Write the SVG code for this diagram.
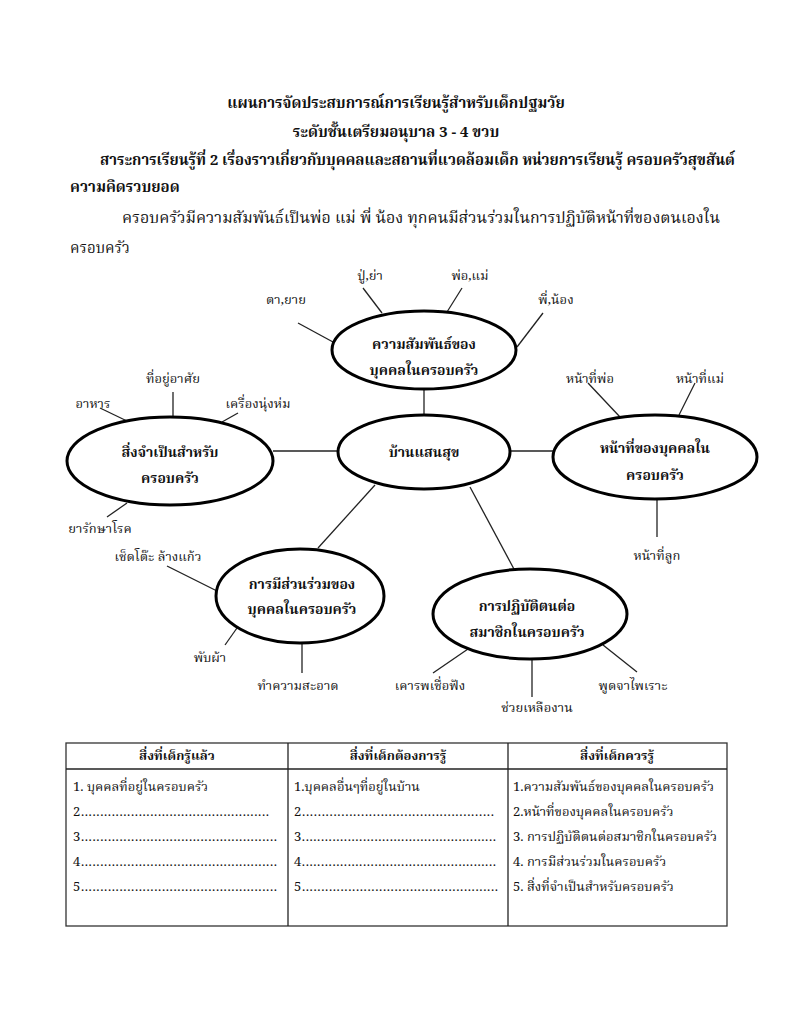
<svg xmlns="http://www.w3.org/2000/svg" width="792" height="1024" viewBox="0 0 792 1024">
<style>
text{font-family:"Noto Serif Thai","Noto Sans Thai","Loma","Garuda","Tlwg Typo","DejaVu Sans","Liberation Serif",serif;fill:#111;}
.h{font-size:15px;font-weight:bold;}
.p{font-size:15px;}
.n{font-size:14px;font-weight:bold;text-anchor:middle;}
.l{font-size:13px;text-anchor:middle;}
.t{font-size:13px;}
.th{font-size:13px;font-weight:bold;text-anchor:middle;}
ellipse{fill:#fff;stroke:#000;stroke-width:3;}
line{stroke:#222;stroke-width:1.3;}
.tb{fill:none;stroke:#333;stroke-width:1.3;}
</style>
<rect width="792" height="1024" fill="#fff"/>
<g id="header">
<text class="h" x="396" y="108" text-anchor="middle">แผนการจัดประสบการณ์การเรียนรู้สำหรับเด็กปฐมวัย</text>
<text class="h" x="396" y="137" text-anchor="middle">ระดับชั้นเตรียมอนุบาล 3 - 4 ขวบ</text>
<text class="h" x="100" y="165" textLength="635" lengthAdjust="spacingAndGlyphs">สาระการเรียนรู้ที่ 2  เรื่องราวเกี่ยวกับบุคคลและสถานที่แวดล้อมเด็ก  หน่วยการเรียนรู้  ครอบครัวสุขสันต์</text>
<text class="h" x="70" y="192">ความคิดรวบยอด</text>
<text class="p" x="122" y="223" textLength="598" lengthAdjust="spacingAndGlyphs">ครอบครัวมีความสัมพันธ์เป็นพ่อ แม่ พี่ น้อง ทุกคนมีส่วนร่วมในการปฏิบัติหน้าที่ของตนเองใน</text>
<text class="p" x="70" y="253">ครอบครัว</text>
</g>
<g id="connectors">
<line x1="424" y1="389" x2="424" y2="415"/>
<line x1="273" y1="451" x2="338" y2="451"/>
<line x1="510" y1="451" x2="553" y2="451"/>
<line x1="375" y1="485" x2="318" y2="548"/>
<line x1="470" y1="487" x2="515" y2="571"/>
<line x1="298" y1="323" x2="333" y2="342"/>
<line x1="363" y1="288" x2="382" y2="313"/>
<line x1="462" y1="288" x2="447" y2="312"/>
<line x1="543" y1="313" x2="517" y2="347"/>
<line x1="100" y1="408" x2="127" y2="421"/>
<line x1="173" y1="392" x2="173" y2="417"/>
<line x1="238" y1="413" x2="222" y2="422"/>
<line x1="107" y1="517" x2="127" y2="503"/>
<line x1="588" y1="383" x2="620" y2="417"/>
<line x1="695" y1="383" x2="679" y2="415"/>
<line x1="657" y1="500" x2="657" y2="537"/>
<line x1="167" y1="566" x2="217" y2="591"/>
<line x1="237" y1="628" x2="225" y2="645"/>
<line x1="302" y1="643" x2="302" y2="673"/>
<line x1="468" y1="649" x2="433" y2="673"/>
<line x1="532" y1="659" x2="532" y2="697"/>
<line x1="603" y1="645" x2="637" y2="672"/>
</g>
<g id="node-relation">
<ellipse cx="424" cy="350" rx="92" ry="39"/>
<text class="n" x="424" y="349">ความสัมพันธ์ของ</text>
<text class="n" x="424" y="375">บุคคลในครอบครัว</text>
</g>
<g id="node-center">
<ellipse cx="424" cy="452" rx="86" ry="37"/>
<text class="n" x="424" y="457">บ้านแสนสุข</text>
</g>
<g id="node-needs">
<ellipse cx="170" cy="461" rx="103" ry="44"/>
<text class="n" x="170" y="457">สิ่งจำเป็นสำหรับ</text>
<text class="n" x="170" y="483">ครอบครัว</text>
</g>
<g id="node-duties">
<ellipse cx="655" cy="457" rx="102" ry="42"/>
<text class="n" x="655" y="453">หน้าที่ของบุคคลใน</text>
<text class="n" x="655" y="480">ครอบครัว</text>
</g>
<g id="node-participation">
<ellipse cx="300" cy="596" rx="84" ry="47"/>
<text class="n" x="302" y="589">การมีส่วนร่วมของ</text>
<text class="n" x="302" y="614">บุคคลในครอบครัว</text>
</g>
<g id="node-conduct">
<ellipse cx="530" cy="614" rx="97" ry="45"/>
<text class="n" x="527" y="611">การปฏิบัติตนต่อ</text>
<text class="n" x="527" y="637">สมาชิกในครอบครัว</text>
</g>
<g id="labels">
<text class="l" x="286" y="304">ตา,ยาย</text>
<text class="l" x="370" y="280">ปู่,ย่า</text>
<text class="l" x="470" y="280">พ่อ,แม่</text>
<text class="l" x="556" y="304">พี่,น้อง</text>
<text class="l" x="93" y="408">อาหาร</text>
<text class="l" x="173" y="383">ที่อยู่อาศัย</text>
<text class="l" x="258" y="408">เครื่องนุ่งห่ม</text>
<text class="l" x="100" y="533">ยารักษาโรค</text>
<text class="l" x="590" y="383">หน้าที่พ่อ</text>
<text class="l" x="700" y="383">หน้าที่แม่</text>
<text class="l" x="657" y="560">หน้าที่ลูก</text>
<text class="l" x="158" y="561">เช็ดโต๊ะ ล้างแก้ว</text>
<text class="l" x="210" y="662">พับผ้า</text>
<text class="l" x="298" y="690">ทำความสะอาด</text>
<text class="l" x="430" y="690">เคารพเชื่อฟัง</text>
<text class="l" x="537" y="712">ช่วยเหลืองาน</text>
<text class="l" x="633" y="690">พูดจาไพเราะ</text>
</g>
<g id="table">
<rect class="tb" x="66" y="743" width="661" height="183"/>
<line x1="66" y1="769" x2="727" y2="769"/>
<line x1="288" y1="743" x2="288" y2="926"/>
<line x1="508" y1="743" x2="508" y2="926"/>
<text class="th" x="177" y="760">สิ่งที่เด็กรู้แล้ว</text>
<text class="th" x="398" y="760">สิ่งที่เด็กต้องการรู้</text>
<text class="th" x="617" y="760">สิ่งที่เด็กควรรู้</text>
<text class="t" x="73" y="791">1. บุคคลที่อยู่ในครอบครัว</text>
<text class="t" x="73" y="816" textLength="196" lengthAdjust="spacing">2.................................................</text>
<text class="t" x="73" y="841" textLength="204" lengthAdjust="spacing">3...................................................</text>
<text class="t" x="73" y="866" textLength="204" lengthAdjust="spacing">4...................................................</text>
<text class="t" x="73" y="891" textLength="204" lengthAdjust="spacing">5...................................................</text>
<text class="t" x="294" y="791">1.บุคคลอื่นๆที่อยู่ในบ้าน</text>
<text class="t" x="294" y="816" textLength="200" lengthAdjust="spacing">2.................................................</text>
<text class="t" x="294" y="841" textLength="202" lengthAdjust="spacing">3...................................................</text>
<text class="t" x="294" y="866" textLength="202" lengthAdjust="spacing">4...................................................</text>
<text class="t" x="294" y="891" textLength="204" lengthAdjust="spacing">5...................................................</text>
<text class="t" x="513" y="791">1.ความสัมพันธ์ของบุคคลในครอบครัว</text>
<text class="t" x="513" y="816">2.หน้าที่ของบุคคลในครอบครัว</text>
<text class="t" x="513" y="841">3. การปฏิบัติตนต่อสมาชิกในครอบครัว</text>
<text class="t" x="513" y="866">4. การมีส่วนร่วมในครอบครัว</text>
<text class="t" x="513" y="891">5. สิ่งที่จำเป็นสำหรับครอบครัว</text>
</g>
</svg>
